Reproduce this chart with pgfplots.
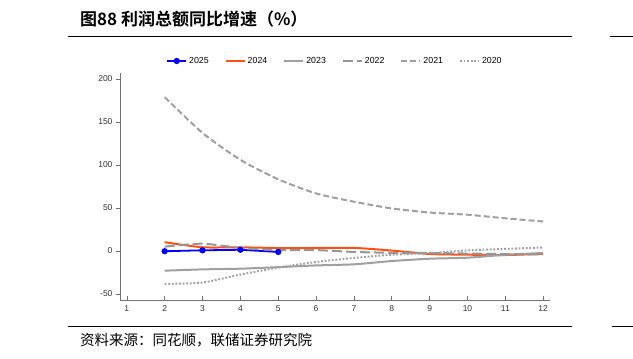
\documentclass[border=0pt]{standalone}
\usepackage{pgfplots}
\pgfplotsset{compat=1.18}
\usepackage{fontspec}
\setmainfont{Liberation Sans}
\newfontfamily\cjk{Noto Sans CJK SC}
\newfontfamily\cjkb{Noto Sans CJK SC Bold}
\definecolor{cblue}{RGB}{0,0,255}
\definecolor{corange}{RGB}{255,80,20}
\definecolor{cgray}{RGB}{160,160,160}
\definecolor{cgrayd}{RGB}{150,150,150}
\definecolor{axgray}{RGB}{115,115,115}
\begin{document}
\begin{tikzpicture}
\useasboundingbox (0pt,0pt) rectangle (633pt,359pt);
\node[anchor=west,inner sep=0] at (80pt,340pt) {\cjkb\fontsize{17}{19}\selectfont 图88 利润总额同比增速（\%）};
\draw[black,line width=0.9pt] (68pt,323pt) -- (572pt,323pt);
\draw[black,line width=0.9pt] (610pt,323pt) -- (633pt,323pt);
\draw[black,line width=0.9pt] (68pt,33pt) -- (572pt,33pt);
\draw[black,line width=0.9pt] (612pt,33pt) -- (633pt,33pt);
\node[anchor=west,inner sep=0] at (80pt,19pt) {\cjk\fontsize{14.5}{16}\selectfont 资料来源：同花顺，联储证券研究院};
\begin{axis}[
  at={(120pt,59pt)}, anchor=south west,
  scale only axis, width=430pt, height=227pt,
  xmin=0.82, xmax=12.18, ymin=-57, ymax=207,
  axis x line*=bottom, axis y line*=left,
  axis line style={axgray,line width=0.8pt},
  xtick={1,...,12}, ytick={-50,0,50,100,150,200},
  tick style={axgray,line width=0.6pt},
  major tick length=4pt,
  xtick align=inside, ytick align=outside,
  tick label style={font=\fontsize{8.5}{10}\selectfont, text=black!80},
  xticklabel style={yshift=-2pt},
  /pgf/number format/assume math mode=true,
  legend style={at={(0.5,1.053)},anchor=center,draw=none,fill=none,
    legend columns=6, font=\fontsize{8.8}{10}\selectfont,
    /tikz/every even column/.append style={column sep=14pt}},
  legend image code/.code={\draw[mark repeat=2,mark phase=2,#1] plot coordinates {(0pt,0pt)(9.5pt,0pt)(19pt,0pt)};},
  clip=false,
]
\addplot[cblue,line width=1.8pt,mark=*,mark size=2.2pt,mark options={solid}] coordinates {(2,-0.3)(3,0.8)(4,1.4)(5,-1.1)};
\addlegendentry{2025}
\addplot[corange,line width=2pt,smooth,tension=0.4] coordinates {(2,10.2)(3,4.3)(4,4.3)(5,3.4)(6,3.5)(7,3.6)(8,0.5)(9,-3.5)(10,-4.3)(11,-4.7)(12,-3.3)};
\addlegendentry{2024}
\addplot[cgray,line width=2pt,smooth,tension=0.4] coordinates {(2,-22.9)(3,-21.4)(4,-20.6)(5,-18.8)(6,-16.8)(7,-15.5)(8,-11.7)(9,-9.0)(10,-7.8)(11,-4.4)(12,-2.3)};
\addlegendentry{2023}
\addplot[cgrayd,line width=2pt,smooth,tension=0.4,dash pattern=on 10pt off 4pt] coordinates {(2,5.0)(3,8.5)(4,3.5)(5,1.0)(6,1.0)(7,-1.1)(8,-2.1)(9,-2.3)(10,-3.0)(11,-3.6)(12,-4.0)};
\addlegendentry{2022}
\addplot[cgray,line width=2pt,smooth,tension=0.4,dash pattern=on 6pt off 3pt] coordinates {(2,178.9)(3,137.3)(4,106.0)(5,83.4)(6,66.9)(7,57.3)(8,49.5)(9,44.7)(10,42.2)(11,38.0)(12,34.3)};
\addlegendentry{2021}
\addplot[cgray,line width=2pt,smooth,tension=0.4,dash pattern=on 1.8pt off 1.8pt] coordinates {(2,-38.3)(3,-36.7)(4,-27.4)(5,-19.3)(6,-12.8)(7,-8.1)(8,-4.4)(9,-2.4)(10,0.7)(11,2.4)(12,4.1)};
\addlegendentry{2020}
\end{axis}
\end{tikzpicture}
\end{document}
